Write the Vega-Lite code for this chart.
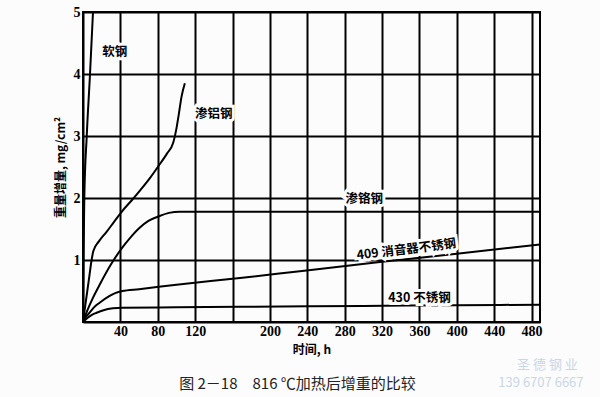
{
  "$schema": "https://vega.github.io/schema/vega-lite/v6.json",
  "width": 457,
  "height": 310,
  "autosize": {"type": "none"},
  "padding": {"left": 83, "top": 12, "right": 60, "bottom": 75},
  "background": "#fdfcfc",
  "view": {"stroke": "black", "strokeWidth": 2},
  "title": {
    "text": "图 2－18\u3000816 ℃加热后增重的比较",
    "orient": "bottom",
    "anchor": "middle",
    "baseline": "middle",
    "font": "Noto Sans CJK SC",
    "fontSize": 15,
    "fontWeight": "normal",
    "color": "#222",
    "offset": -6,
    "dx": -14
  },
  "config": {
    "axis": {
      "ticks": false,
      "domainColor": "black",
      "domainWidth": 2,
      "gridColor": "black",
      "gridWidth": 2,
      "gridOpacity": 1,
      "labelFont": "Liberation Serif",
      "labelFontWeight": "bold",
      "labelFontSize": 14,
      "labelColor": "black",
      "labelOverlap": false,
      "labelFlush": false,
      "titleFont": "Noto Sans CJK SC",
      "titleFontWeight": "bold",
      "titleFontSize": 12,
      "titleColor": "black"
    }
  },
  "datasets": {
    "curves": [
      {"series": "软钢", "x": 0, "y": 0},
      {"series": "软钢", "x": 0.5, "y": 1},
      {"series": "软钢", "x": 1.4, "y": 2},
      {"series": "软钢", "x": 4, "y": 3},
      {"series": "软钢", "x": 7.5, "y": 4},
      {"series": "软钢", "x": 10.7, "y": 5},
      {"series": "渗铝钢", "x": 0, "y": 0},
      {"series": "渗铝钢", "x": 3, "y": 0.33},
      {"series": "渗铝钢", "x": 6, "y": 0.65},
      {"series": "渗铝钢", "x": 9, "y": 0.98},
      {"series": "渗铝钢", "x": 11, "y": 1.14},
      {"series": "渗铝钢", "x": 17, "y": 1.3},
      {"series": "渗铝钢", "x": 25, "y": 1.45},
      {"series": "渗铝钢", "x": 33, "y": 1.61},
      {"series": "渗铝钢", "x": 42, "y": 1.79},
      {"series": "渗铝钢", "x": 52, "y": 1.96},
      {"series": "渗铝钢", "x": 62, "y": 2.14},
      {"series": "渗铝钢", "x": 72, "y": 2.33},
      {"series": "渗铝钢", "x": 80.5, "y": 2.51},
      {"series": "渗铝钢", "x": 90, "y": 2.72},
      {"series": "渗铝钢", "x": 96.5, "y": 2.89},
      {"series": "渗铝钢", "x": 100.2, "y": 3.14},
      {"series": "渗铝钢", "x": 102.5, "y": 3.35},
      {"series": "渗铝钢", "x": 105.5, "y": 3.64},
      {"series": "渗铝钢", "x": 109, "y": 3.85},
      {"series": "渗铬钢", "x": 0, "y": 0},
      {"series": "渗铬钢", "x": 5, "y": 0.2},
      {"series": "渗铬钢", "x": 10, "y": 0.37},
      {"series": "渗铬钢", "x": 17.8, "y": 0.6},
      {"series": "渗铬钢", "x": 30, "y": 0.93},
      {"series": "渗铬钢", "x": 42, "y": 1.2},
      {"series": "渗铬钢", "x": 50, "y": 1.35},
      {"series": "渗铬钢", "x": 60.6, "y": 1.52},
      {"series": "渗铬钢", "x": 70, "y": 1.63},
      {"series": "渗铬钢", "x": 82, "y": 1.71},
      {"series": "渗铬钢", "x": 92, "y": 1.76},
      {"series": "渗铬钢", "x": 103.5, "y": 1.78},
      {"series": "渗铬钢", "x": 150, "y": 1.78},
      {"series": "渗铬钢", "x": 250, "y": 1.78},
      {"series": "渗铬钢", "x": 400, "y": 1.78},
      {"series": "渗铬钢", "x": 489, "y": 1.78},
      {"series": "409 消音器不锈钢", "x": 0, "y": 0},
      {"series": "409 消音器不锈钢", "x": 3, "y": 0.08},
      {"series": "409 消音器不锈钢", "x": 7.1, "y": 0.15},
      {"series": "409 消音器不锈钢", "x": 12, "y": 0.24},
      {"series": "409 消音器不锈钢", "x": 17.8, "y": 0.31},
      {"series": "409 消音器不锈钢", "x": 28.5, "y": 0.42},
      {"series": "409 消音器不锈钢", "x": 35, "y": 0.47},
      {"series": "409 消音器不锈钢", "x": 42, "y": 0.5},
      {"series": "409 消音器不锈钢", "x": 60, "y": 0.53},
      {"series": "409 消音器不锈钢", "x": 100, "y": 0.6},
      {"series": "409 消音器不锈钢", "x": 168, "y": 0.71},
      {"series": "409 消音器不锈钢", "x": 232, "y": 0.82},
      {"series": "409 消音器不锈钢", "x": 320, "y": 0.97},
      {"series": "409 消音器不锈钢", "x": 400, "y": 1.1},
      {"series": "409 消音器不锈钢", "x": 489, "y": 1.25},
      {"series": "430 不锈钢", "x": 0, "y": 0},
      {"series": "430 不锈钢", "x": 5, "y": 0.07},
      {"series": "430 不锈钢", "x": 10, "y": 0.12},
      {"series": "430 不锈钢", "x": 14.6, "y": 0.15},
      {"series": "430 不锈钢", "x": 22, "y": 0.19},
      {"series": "430 不锈钢", "x": 32, "y": 0.22},
      {"series": "430 不锈钢", "x": 42, "y": 0.23},
      {"series": "430 不锈钢", "x": 100, "y": 0.237},
      {"series": "430 不锈钢", "x": 168, "y": 0.245},
      {"series": "430 不锈钢", "x": 300, "y": 0.26},
      {"series": "430 不锈钢", "x": 400, "y": 0.27},
      {"series": "430 不锈钢", "x": 489, "y": 0.28}
    ],
    "labels": [
      {"label": "软钢", "x": 34, "y": 4.36},
      {"label": "渗铝钢", "x": 140, "y": 3.35},
      {"label": "渗铬钢", "x": 301, "y": 1.99},
      {"label": "430 不锈钢", "x": 360, "y": 0.39}
    ],
    "rotlabels": [
      {"label": "409 消音器不锈钢", "x": 346, "y": 1.17}
    ],
    "watermark": [
      {"label": "圣 德 钢 业", "x": 497, "y": -0.7},
      {"label": "139 6707 6667", "x": 490, "y": -0.98}
    ]
  },
  "encoding": {
    "x": {
      "field": "x",
      "type": "quantitative",
      "scale": {"domain": [0, 489], "nice": false, "zero": true},
      "axis": {
        "values": [40, 80, 120, 160, 200, 240, 280, 320, 360, 400, 440, 480],
        "labelExpr": "datum.value == 160 ? '' : datum.label",
        "labelPadding": 2,
        "title": "时间, h",
        "titlePadding": 6
      }
    },
    "y": {
      "field": "y",
      "type": "quantitative",
      "scale": {"domain": [0, 5], "nice": false},
      "axis": {
        "values": [1, 2, 3, 4, 5],
        "labelPadding": 3,
        "title": "重量增量, mg/cm²",
        "titlePadding": 6
      }
    }
  },
  "layer": [
    {
      "data": {"name": "curves"},
      "mark": {"type": "line", "color": "black", "strokeWidth": 2, "interpolate": "monotone", "clip": true},
      "encoding": {"detail": {"field": "series"}}
    },
    {
      "data": {"name": "labels"},
      "mark": {"type": "text", "font": "Noto Sans CJK SC", "fontWeight": "bold", "fontSize": 12.5, "fill": "#fdfcfc", "stroke": "#fdfcfc", "strokeWidth": 6},
      "encoding": {"text": {"field": "label"}}
    },
    {
      "data": {"name": "labels"},
      "mark": {"type": "text", "font": "Noto Sans CJK SC", "fontWeight": "bold", "fontSize": 12.5, "color": "black"},
      "encoding": {"text": {"field": "label"}}
    },
    {
      "data": {"name": "rotlabels"},
      "mark": {"type": "text", "font": "Noto Sans CJK SC", "fontWeight": "bold", "fontSize": 12.5, "angle": 353, "fill": "#fdfcfc", "stroke": "#fdfcfc", "strokeWidth": 6},
      "encoding": {"text": {"field": "label"}}
    },
    {
      "data": {"name": "rotlabels"},
      "mark": {"type": "text", "font": "Noto Sans CJK SC", "fontWeight": "bold", "fontSize": 12.5, "angle": 353, "color": "black"},
      "encoding": {"text": {"field": "label"}}
    },
    {
      "data": {"name": "watermark"},
      "mark": {"type": "text", "font": "Noto Sans CJK SC", "fontSize": 13, "color": "#c9d6e6", "clip": false},
      "encoding": {"text": {"field": "label"}}
    }
  ]
}
